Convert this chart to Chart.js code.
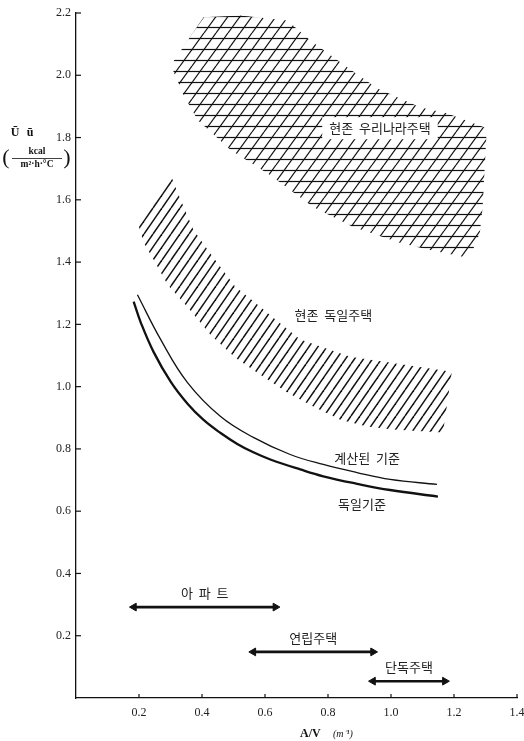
<!DOCTYPE html>
<html>
<head>
<meta charset="utf-8"/>
<title>U - A/V</title>
<script src="https://cdn.jsdelivr.net/npm/chart.js@4.4.1/dist/chart.umd.min.js"></script>
<style>
  html, body { margin: 0; padding: 0; background: #fff; }
</style>
</head>
<body>
<canvas id="myChart" width="524" height="741"></canvas>
<script>
// axis ticks
const xTicks = [0.2, 0.4, 0.6, 0.8, 1.0, 1.2, 1.4];
const yTicks = [0.2, 0.4, 0.6, 0.8, 1.0, 1.2, 1.4, 1.6, 1.8, 2.0, 2.2];

// 현존 우리나라주택 - outline of the cross-hatched band (top edge, then back along bottom)
const koreaX = [0.301, 0.405, 0.522, 0.671, 0.744, 0.861, 0.956, 1.092, 1.177, 1.304, 1.291, 1.282, 1.256,
                1.228, 1.123, 1.028, 0.880, 0.753, 0.617, 0.491, 0.386, 0.342];
const koreaY = [2.032, 2.186, 2.192, 2.176, 2.112, 2.026, 1.958, 1.897, 1.878, 1.830, 1.577, 1.494, 1.429,
                1.417, 1.439, 1.462, 1.513, 1.577, 1.679, 1.760, 1.856, 1.936];

// 현존 독일주택 - outline of the hatched band
const germanHouseX = [0.196, 0.301, 0.323, 0.373, 0.434, 0.506, 0.570, 0.640, 0.712, 0.870, 1.038, 1.193,
                      1.165, 1.006, 0.924, 0.839, 0.753, 0.671, 0.585, 0.506, 0.427, 0.354, 0.291, 0.247, 0.215];
const germanHouseY = [1.526, 1.679, 1.622, 1.503, 1.417, 1.321, 1.269, 1.210, 1.151, 1.096, 1.071, 1.048,
                      0.853, 0.862, 0.872, 0.894, 0.936, 0.981, 1.038, 1.093, 1.167, 1.256, 1.327, 1.407, 1.462];

// 계산된 기준 (thin line)
const calcX = [0.195, 0.269, 0.354, 0.459, 0.563, 0.680, 0.785, 0.892, 0.997, 1.146];
const calcY = [1.295, 1.151, 1.013, 0.904, 0.837, 0.782, 0.750, 0.724, 0.702, 0.686];

// 독일기준 (thick line)
const germanStdX = [0.183, 0.206, 0.247, 0.301, 0.354, 0.405, 0.459, 0.512, 0.563, 0.617, 0.712, 0.785, 0.892, 0.997, 1.149];
const germanStdY = [1.273, 1.205, 1.110, 1.015, 0.945, 0.893, 0.851, 0.816, 0.789, 0.766, 0.734, 0.712, 0.688, 0.668, 0.647];

// A/V ranges of building types
const rangeNames = ['아  파  트', '연립주택', '단독주택'];
const rangeFrom = [0.184, 0.563, 0.943];
const rangeTo = [0.633, 0.943, 1.171];
const rangeU = [0.292, 0.148, 0.054];

// curve / band labels
const notes = [
  { text: '현존  우리나라주택', x: 0.965, y: 1.83, box: true },
  { text: '현존  독일주택', x: 0.817, y: 1.231 },
  { text: '계산된  기준', x: 0.924, y: 0.772 },
  { text: '독일기준', x: 0.908, y: 0.622 }
];

function pts(xs, ys) {
  return xs.map((x, i) => ({ x: x, y: ys[i] }));
}

// single diagonal hatch
function hatchPattern() {
  const c = document.createElement('canvas');
  c.width = 18; c.height = 26;
  const g = c.getContext('2d');
  g.strokeStyle = '#111';
  g.lineWidth = 1.5;
  for (let k = -2; k <= 2; k++) {
    g.beginPath();
    g.moveTo(k * 9, 26);
    g.lineTo(k * 9 + 18, 0);
    g.stroke();
  }
  return g.createPattern(c, 'repeat');
}

// cross hatch (horizontal + steep diagonal)
function crossPattern() {
  const c = document.createElement('canvas');
  c.width = 24; c.height = 33;
  const g = c.getContext('2d');
  g.strokeStyle = '#111';
  g.lineWidth = 1.2;
  [5.5, 16.5, 27.5].forEach(h => {
    g.beginPath(); g.moveTo(0, h); g.lineTo(24, h); g.stroke();
  });
  for (let k = -2; k <= 2; k++) {
    g.beginPath();
    g.moveTo(k * 12, 33);
    g.lineTo(k * 12 + 24, 0);
    g.stroke();
  }
  return g.createPattern(c, 'repeat');
}

const datasets = [
  {
    data: pts(koreaX, koreaY), fill: 'shape', backgroundColor: crossPattern(),
    borderWidth: 0, pointRadius: 0, tension: 0
  },
  {
    data: pts(germanHouseX, germanHouseY), fill: 'shape', backgroundColor: hatchPattern(),
    borderWidth: 0, pointRadius: 0, tension: 0
  },
  {
    data: pts(calcX, calcY), borderColor: '#111', borderWidth: 1.3,
    pointRadius: 0, fill: false, tension: 0.4
  },
  {
    data: pts(germanStdX, germanStdY), borderColor: '#111', borderWidth: 2.3,
    pointRadius: 0, fill: false, tension: 0.4
  }
];
rangeNames.forEach((name, i) => {
  datasets.push({
    label: name,
    data: [{ x: rangeFrom[i], y: rangeU[i] }, { x: rangeTo[i], y: rangeU[i] }],
    borderColor: '#111', borderWidth: 2.6, fill: false,
    pointStyle: 'triangle', pointRadius: 4.5, pointRotation: [-90, 90],
    pointBackgroundColor: '#111', pointBorderColor: '#111', pointBorderWidth: 1
  });
});

const extras = {
  id: 'extras',
  afterDatasetsDraw(chart) {
    const { ctx, chartArea, scales: { x, y } } = chart;
    ctx.save();
    // inside tick marks
    ctx.strokeStyle = '#111';
    ctx.lineWidth = 1.2;
    xTicks.forEach(v => {
      const px = x.getPixelForValue(v);
      ctx.beginPath(); ctx.moveTo(px, chartArea.bottom); ctx.lineTo(px, chartArea.bottom - 4); ctx.stroke();
    });
    yTicks.forEach(v => {
      const py = y.getPixelForValue(v);
      ctx.beginPath(); ctx.moveTo(chartArea.left, py); ctx.lineTo(chartArea.left + 5, py); ctx.stroke();
    });

    ctx.font = '13px "Noto Sans CJK KR"';
    ctx.textAlign = 'center';
    ctx.textBaseline = 'middle';
    notes.forEach(n => {
      const px = x.getPixelForValue(n.x), py = y.getPixelForValue(n.y);
      if (n.box) {
        const w = ctx.measureText(n.text).width + 14;
        ctx.fillStyle = '#fff';
        ctx.fillRect(px - w / 2, py - 11, w, 22);
      }
      ctx.fillStyle = '#222';
      ctx.fillText(n.text, px, py);
    });
    rangeNames.forEach((name, i) => {
      const px = x.getPixelForValue((rangeFrom[i] + rangeTo[i]) / 2);
      const py = y.getPixelForValue(rangeU[i]) - 14;
      ctx.fillStyle = '#222';
      ctx.fillText(name, px, py);
    });

    // x axis title
    ctx.textAlign = 'left';
    ctx.fillStyle = '#111';
    ctx.font = 'bold 12px "Liberation Serif"';
    ctx.fillText('A/V', 300, 734);
    ctx.font = 'italic 10px "Liberation Serif"';
    ctx.fillText('(m⁻¹)', 333, 734);

    // y axis title
    ctx.textAlign = 'center';
    ctx.font = 'bold 12px "Liberation Serif"';
    ctx.fillText('Ū', 15, 133);
    ctx.fillText('ū', 30, 133);
    ctx.font = 'bold 9.5px "Liberation Serif"';
    ctx.fillText('kcal', 37, 152);
    ctx.fillText('m²·h·°C', 37, 165);
    ctx.lineWidth = 0.8;
    ctx.beginPath(); ctx.moveTo(12, 158.5); ctx.lineTo(62, 158.5); ctx.stroke();
    ctx.font = '22px "Liberation Serif"';
    ctx.fillText('(', 6, 158);
    ctx.fillText(')', 67, 158);
    ctx.restore();
  }
};

const ctx = document.getElementById('myChart').getContext('2d');
const chart = new Chart(ctx, {
  type: 'line',
  data: { datasets: datasets },
  options: {
    responsive: false,
    animation: false,
    layout: { padding: { top: 13, right: 7, left: 0, bottom: 0 } },
    plugins: { legend: { display: false }, tooltip: { enabled: false } },
    scales: {
      x: {
        type: 'linear', min: 0, max: 1.4,
        afterBuildTicks: s => { s.ticks = xTicks.map(v => ({ value: v })); },
        afterFit: s => { s.height = 43; s.paddingLeft = 0; s.paddingRight = 0; },
        ticks: {
          autoSkip: false, maxRotation: 0, padding: 8, color: '#222',
          font: { family: 'Liberation Serif', size: 12 },
          callback: v => v.toFixed(1)
        },
        grid: { drawOnChartArea: false, drawTicks: false },
        border: { display: true, color: '#111', width: 1.3 }
      },
      y: {
        type: 'linear', min: 0, max: 2.2,
        afterBuildTicks: s => { s.ticks = yTicks.map(v => ({ value: v })); },
        afterFit: s => { s.width = 76; s.paddingTop = 0; s.paddingBottom = 0; },
        ticks: {
          autoSkip: false, padding: 5, color: '#222',
          font: { family: 'Liberation Serif', size: 12 },
          callback: v => v.toFixed(1)
        },
        grid: { drawOnChartArea: false, drawTicks: false },
        border: { display: true, color: '#111', width: 1.3 }
      }
    }
  },
  plugins: [extras]
});
</script>
</body>
</html>
